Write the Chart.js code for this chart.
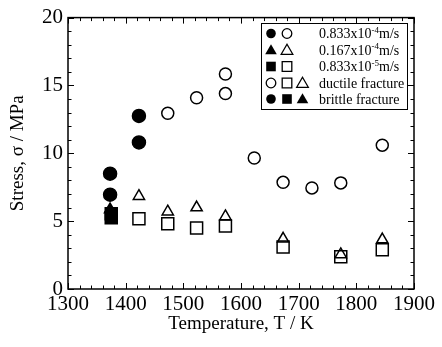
<!DOCTYPE html>
<html>
<head>
<meta charset="utf-8">
<script src="https://cdn.jsdelivr.net/npm/chart.js@4/dist/chart.umd.min.js"></script>
<style>
  html, body { margin: 0; padding: 0; background: #fff; }
  #wrap { width: 442px; height: 347px; }
</style>
</head>
<body>
<div id="wrap"><canvas id="c" width="442" height="347"></canvas></div>
<script>
// ---- data ----
const brittleCircleT = [1373, 1373, 1423, 1423];
const brittleCircleS = [8.5, 6.95, 12.75, 10.8];
const ductileCircleT = [1473, 1523, 1573, 1573, 1623, 1673, 1723, 1773, 1845];
const ductileCircleS = [12.95, 14.1, 15.85, 14.4, 9.65, 7.86, 7.45, 7.82, 10.6];
const brittleTriT = [1373];
const brittleTriS = [5.85];
const ductileTriT = [1423, 1473, 1523, 1573, 1673, 1773, 1845];
const ductileTriS = [6.84, 5.7, 6.0, 5.35, 3.7, 2.55, 3.64];
const brittleSqT = [1375, 1375];
const brittleSqS = [5.55, 5.25];
const ductileSqT = [1423, 1473, 1523, 1573, 1673, 1773, 1845];
const ductileSqS = [5.18, 4.81, 4.49, 4.64, 3.1, 2.37, 2.9];

const xTicks = [1300, 1400, 1500, 1600, 1700, 1800, 1900];
const yTicks = [0, 5, 10, 15, 20];
const legendRates = [["0.833x10", "-4", "m/s"], ["0.167x10", "-4", "m/s"], ["0.833x10", "-5", "m/s"]];
const legendModes = ["ductile fracture", "brittle fracture"];
const xTitle = "Temperature, T / K";
const yTitle = "Stress, \u03c3 / MPa";

const SERIF = "'Liberation Serif', 'Times New Roman', serif";

function pts(xs, ys) { return xs.map((x, i) => ({ x: x, y: ys[i] })); }

function mk(xs, ys, style, filled, r) {
  return {
    data: pts(xs, ys),
    pointStyle: style,
    pointRadius: r,
    pointHoverRadius: r,
    pointBorderWidth: 1.5,
    pointBorderColor: '#000',
    pointBackgroundColor: filled ? '#000' : 'rgba(0,0,0,0)',
    showLine: false
  };
}

// frame with inward ticks on all four sides
const framePlugin = {
  id: 'frame',
  afterDatasetsDraw(chart) {
    const ctx = chart.ctx;
    const a = chart.chartArea;
    const xs = chart.scales.x, ys = chart.scales.y;
    ctx.save();
    ctx.strokeStyle = '#000';
    ctx.lineWidth = 1.5;
    ctx.strokeRect(a.left, a.top, a.right - a.left, a.bottom - a.top);
    ctx.lineWidth = 1;
    ctx.beginPath();
    for (let v = xs.min; v <= xs.max + 1e-6; v += 20) {
      const px = Math.round(xs.getPixelForValue(v)) + 0.5;
      const major = Math.abs(v % 100) < 1e-6;
      const len = major ? 6 : 3.5;
      ctx.moveTo(px, a.bottom); ctx.lineTo(px, a.bottom - len);
      ctx.moveTo(px, a.top); ctx.lineTo(px, a.top + len);
    }
    for (let v = ys.min; v <= ys.max + 1e-6; v += 1) {
      const py = Math.round(ys.getPixelForValue(v)) + 0.5;
      const major = Math.abs(v % 5) < 1e-6;
      const len = major ? 6 : 3.5;
      ctx.moveTo(a.left, py); ctx.lineTo(a.left + len, py);
      ctx.moveTo(a.right, py); ctx.lineTo(a.right - len, py);
    }
    ctx.stroke();
    ctx.restore();
  }
};

function drawSym(ctx, kind, filled, x, y) {
  ctx.beginPath();
  if (kind === 'circle') {
    ctx.arc(x, y, 4.8, 0, Math.PI * 2);
  } else if (kind === 'rect') {
    ctx.rect(x - 4.8, y - 4.8, 9.6, 9.6);
  } else {
    ctx.moveTo(x, y - 5.8);
    ctx.lineTo(x + 5.8, y + 4.3);
    ctx.lineTo(x - 5.8, y + 4.3);
    ctx.closePath();
  }
  if (filled) { ctx.fillStyle = '#000'; ctx.fill(); }
  else { ctx.lineWidth = 1.3; ctx.strokeStyle = '#000'; ctx.stroke(); }
}

const legendPlugin = {
  id: 'customLegend',
  afterDraw(chart) {
    const ctx = chart.ctx;
    const bx = 261, by = 23, bw = 146, bh = 86;
    ctx.save();
    ctx.fillStyle = '#fff';
    ctx.fillRect(bx, by, bw, bh);
    ctx.lineWidth = 1;
    ctx.strokeStyle = '#000';
    ctx.strokeRect(bx + 0.5, by + 0.5, bw, bh);
    const rows = [33.5, 50, 66.5, 83, 99];
    const c1 = 271, c2 = 287, c3 = 302.5, tx = 319;
    const rateSyms = ['circle', 'triangle', 'rect'];
    ctx.textBaseline = 'middle';
    ctx.textAlign = 'left';
    for (let i = 0; i < 3; i++) {
      const y = rows[i];
      drawSym(ctx, rateSyms[i], true, c1, y);
      drawSym(ctx, rateSyms[i], false, c2, y);
      const parts = legendRates[i];
      ctx.fillStyle = '#000';
      ctx.font = '14px ' + SERIF;
      ctx.fillText(parts[0], tx, y + 1);
      let w = ctx.measureText(parts[0]).width;
      ctx.font = '9px ' + SERIF;
      ctx.fillText(parts[1], tx + w, y - 3);
      w += ctx.measureText(parts[1]).width;
      ctx.font = '14px ' + SERIF;
      ctx.fillText(parts[2], tx + w, y + 1);
    }
    // ductile row
    drawSym(ctx, 'circle', false, c1, rows[3]);
    drawSym(ctx, 'rect', false, c2, rows[3]);
    drawSym(ctx, 'triangle', false, c3, rows[3]);
    // brittle row
    drawSym(ctx, 'circle', true, c1, rows[4]);
    drawSym(ctx, 'rect', true, c2, rows[4]);
    drawSym(ctx, 'triangle', true, c3, rows[4]);
    ctx.fillStyle = '#000';
    ctx.font = '14px ' + SERIF;
    ctx.fillText(legendModes[0], tx, rows[3] + 1);
    ctx.fillText(legendModes[1], tx, rows[4] + 1);
    ctx.restore();
  }
};

new Chart(document.getElementById('c'), {
  type: 'scatter',
  data: {
    datasets: [
      mk(ductileCircleT, ductileCircleS, 'circle', false, 6),
      mk(ductileTriT, ductileTriS, 'triangle', false, 6.5),
      mk(ductileSqT, ductileSqS, 'rect', false, 8.5),
      mk(brittleCircleT, brittleCircleS, 'circle', true, 6.5),
      mk(brittleTriT, brittleTriS, 'triangle', true, 6.5),
      mk(brittleSqT, brittleSqS, 'rect', true, 8.5)
    ]
  },
  options: {
    responsive: false,
    animation: false,
    devicePixelRatio: 1,
    layout: { padding: { top: 16, right: 28, left: 0, bottom: 0 } },
    plugins: { legend: { display: false }, tooltip: { enabled: false } },
    scales: {
      x: {
        type: 'linear',
        min: 1300, max: 1900,
        afterFit(s) { s.height = 58; },
        afterBuildTicks(s) { s.ticks = xTicks.map(v => ({ value: v })); },
        grid: { display: false, drawTicks: false },
        border: { display: false },
        ticks: { color: '#000', font: { family: SERIF, size: 21 }, padding: 3, maxRotation: 0, autoSkip: false,
                 callback: v => String(v) },
        title: { display: true, text: xTitle, color: '#000', font: { family: SERIF, size: 19 }, padding: { top: 0, bottom: 12 } }
      },
      y: {
        type: 'linear',
        min: 0, max: 20,
        afterFit(s) { s.width = 68; },
        afterBuildTicks(s) { s.ticks = yTicks.map(v => ({ value: v })); },
        grid: { display: false, drawTicks: false },
        border: { display: false },
        ticks: { color: '#000', font: { family: SERIF, size: 21 }, padding: 5, autoSkip: false,
                 callback: v => String(v) },
        title: { display: true, text: yTitle, color: '#000', font: { family: SERIF, size: 19 }, padding: { top: 7, bottom: 0 } }
      }
    }
  },
  plugins: [framePlugin, legendPlugin]
});
</script>
</body>
</html>
